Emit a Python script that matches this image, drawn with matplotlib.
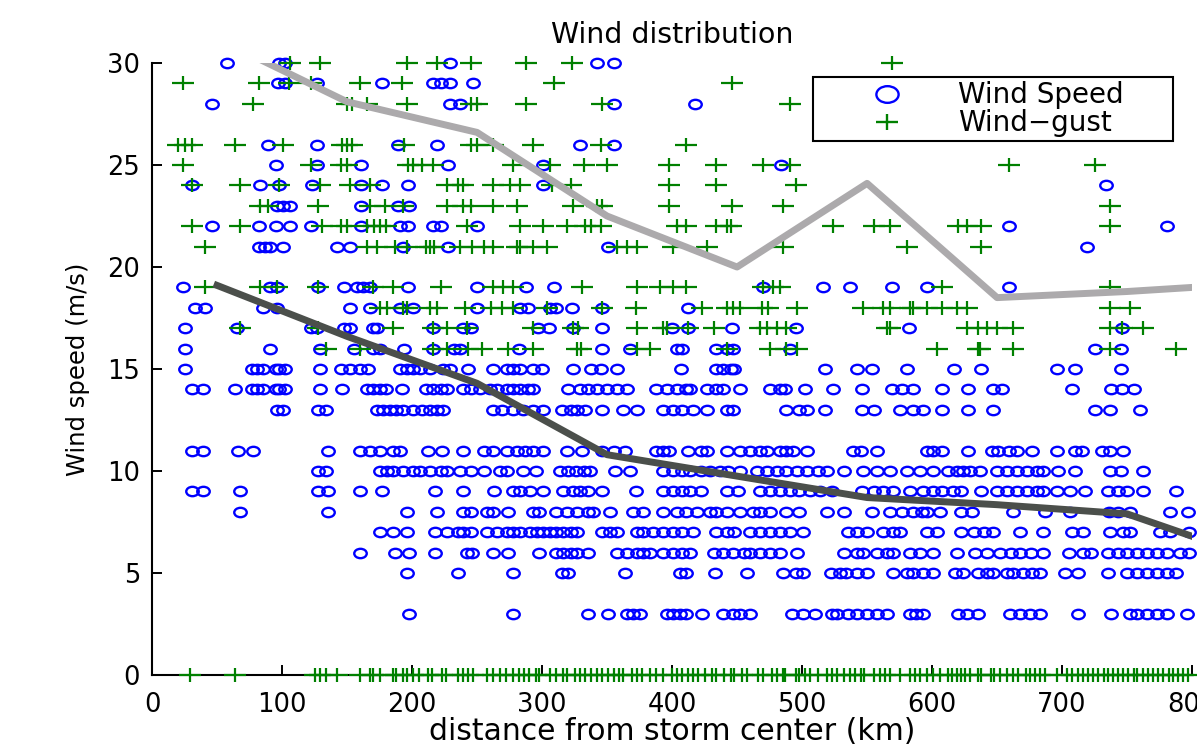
import matplotlib.pyplot as plt
import numpy as np
from matplotlib.path import Path
from matplotlib.transforms import Affine2D
from matplotlib.lines import Line2D

# distance (km) of each Wind Speed observation, one list per speed level (m/s)
ws_30 = [58, 98, 102, 229, 342, 355]
ws_29 = [97, 102, 127, 177, 216, 222, 229, 247]
ws_28 = [46, 229, 237, 355, 418]
ws_26 = [89, 127, 189, 219, 329, 355]
ws_25 = [95, 127, 161, 228, 301, 484]
ws_24 = [31, 83, 98, 123, 161, 177, 197, 301, 734]
ws_23 = [96, 101, 106, 161, 189, 198]
ws_22 = [46, 82, 95, 106, 122, 161, 191, 197, 216, 222, 250, 659, 781]
ws_21 = [82, 87, 91, 101, 142, 152, 193, 228, 351, 719]
ws_19 = [24, 91, 96, 128, 148, 158, 162, 168, 197, 250, 288, 309, 470, 516,
         537, 569, 596, 659]
ws_18 = [33, 41, 85, 96, 152, 168, 191, 201, 250, 283, 289, 306, 311, 323,
         346, 412]
ws_17 = [25, 65, 122, 127, 148, 152, 170, 173, 216, 239, 245, 297, 305, 324,
         346, 400, 412, 446, 495, 582, 746]
ws_16 = [25, 91, 129, 155, 170, 175, 194, 216, 232, 237, 282, 346, 368, 404,
         408, 434, 442, 447, 491, 725, 745]
ws_15 = [25, 77, 81, 85, 95, 98, 102, 129, 145, 152, 160, 166, 191, 196, 201,
         206, 214, 224, 229, 243, 262, 273, 278, 283, 293, 300, 324, 338, 345,
         358, 407, 434, 439, 445, 448, 518, 542, 554, 581, 617, 638, 696, 710,
         745]
ws_14 = [31, 39, 64, 77, 81, 85, 95, 98, 102, 129, 146, 165, 170, 175, 180,
         192, 211, 216, 222, 227, 239, 245, 252, 260, 265, 273, 278, 283, 289,
         293, 320, 329, 335, 342, 350, 358, 365, 388, 396, 404, 411, 414, 427,
         434, 439, 452, 475, 483, 487, 502, 524, 546, 569, 577, 585, 608, 628,
         647, 654, 708, 738, 746, 755]
ws_13 = [96, 101, 128, 134, 173, 178, 183, 188, 193, 201, 208, 214, 219, 224,
         262, 269, 278, 285, 293, 301, 315, 322, 327, 333, 346, 362, 373, 393,
         401, 408, 416, 427, 442, 447, 488, 498, 504, 518, 546, 555, 575, 585,
         593, 608, 628, 647, 725, 737, 760]
ws_11 = [31, 39, 66, 78, 135, 160, 168, 175, 185, 191, 212, 223, 239, 255,
         262, 273, 281, 287, 293, 301, 319, 331, 346, 355, 364, 388, 393, 398,
         412, 422, 427, 442, 452, 460, 468, 473, 483, 488, 493, 504, 539, 545,
         558, 596, 601, 608, 628, 646, 651, 659, 665, 677, 696, 710, 715, 731,
         737, 747]
ws_10 = [128, 134, 175, 181, 185, 193, 201, 206, 214, 222, 227, 237, 245, 255,
         268, 273, 285, 295, 314, 320, 326, 332, 337, 356, 368, 393, 401, 408,
         414, 422, 429, 437, 443, 452, 465, 473, 481, 488, 496, 504, 512, 519,
         532, 547, 558, 568, 581, 591, 601, 612, 619, 624, 629, 637, 650, 658,
         665, 673, 681, 685, 697, 710, 737, 745, 762]
ws_9 = [31, 39, 68, 128, 135, 160, 177, 218, 239, 263, 278, 283, 291, 301,
        316, 324, 329, 335, 346, 372, 393, 401, 408, 414, 422, 442, 451, 468,
        475, 483, 491, 498, 506, 514, 523, 546, 555, 562, 570, 583, 593, 601,
        608, 616, 622, 638, 650, 658, 665, 673, 681, 685, 696, 706, 718, 735,
        743, 750, 762, 788]
ws_8 = [68, 135, 196, 219, 239, 245, 258, 262, 274, 293, 298, 311, 319, 327,
        335, 339, 352, 370, 378, 393, 404, 411, 419, 429, 434, 442, 452, 462,
        468, 475, 488, 498, 519, 532, 554, 568, 577, 585, 592, 596, 606, 622,
        631, 662, 687, 706, 736, 743, 752, 783, 797]
ws_7 = [175, 185, 196, 218, 227, 235, 239, 245, 258, 265, 273, 278, 283, 291,
        296, 301, 306, 311, 316, 322, 327, 346, 352, 358, 373, 378, 385, 393,
        401, 408, 416, 434, 442, 448, 460, 468, 475, 483, 491, 501, 535, 542,
        550, 562, 570, 575, 596, 604, 622, 632, 640, 647, 668, 685, 708, 716,
        737, 747, 752, 775, 783, 798]
ws_6 = [160, 187, 198, 218, 242, 246, 262, 274, 298, 311, 316, 322, 327, 335,
        358, 365, 373, 378, 383, 393, 401, 408, 414, 432, 439, 447, 455, 460,
        468, 475, 483, 496, 532, 542, 547, 558, 565, 570, 583, 591, 601, 619,
        633, 642, 652, 661, 668, 676, 685, 705, 716, 722, 735, 743, 750, 758,
        765, 773, 781, 791, 798]
ws_5 = [196, 235, 278, 315, 320, 364, 406, 411, 433, 458, 485, 495, 501, 522,
        529, 534, 542, 550, 570, 581, 585, 593, 601, 618, 624, 635, 642, 647,
        658, 662, 670, 677, 683, 702, 712, 735, 750, 758, 765, 773, 781, 788]
ws_3 = [198, 278, 335, 351, 365, 370, 375, 396, 401, 406, 411, 423, 439, 447,
        452, 460, 492, 501, 510, 523, 527, 535, 542, 550, 558, 565, 583, 588,
        593, 620, 627, 635, 660, 668, 675, 683, 712, 738, 752, 758, 765, 773,
        781, 796]

# distance (km) of each Wind-gust observation, one list per gust level (m/s)
wg_30 = [106, 129, 196, 219, 245, 288, 323, 569]
wg_29 = [24, 82, 105, 122, 160, 192, 309, 446]
wg_28 = [78, 150, 154, 165, 196, 245, 250, 288, 346, 491]
wg_26 = [20, 25, 31, 64, 101, 146, 150, 154, 194, 245, 250, 262, 293, 345, 411]
wg_25 = [24, 122, 145, 150, 197, 201, 208, 216, 278, 306, 332, 350, 398, 434,
         470, 491, 659, 725]
wg_24 = [31, 68, 98, 129, 152, 168, 227, 235, 239, 262, 275, 283, 308, 322,
         398, 434, 495]
wg_23 = [83, 89, 128, 168, 179, 193, 227, 239, 245, 262, 281, 324, 342, 346,
         398, 446, 485, 737]
wg_22 = [31, 68, 131, 145, 150, 165, 171, 175, 180, 242, 283, 301, 319, 333,
         338, 345, 404, 411, 434, 442, 445, 524, 555, 568, 620, 627, 638, 737]
wg_21 = [41, 165, 173, 187, 196, 211, 214, 217, 237, 246, 255, 262, 281, 283,
         293, 304, 358, 365, 373, 401, 427, 485, 581, 638]
wg_19 = [41, 83, 96, 128, 170, 185, 222, 262, 270, 278, 331, 373, 391, 401,
         411, 470, 478, 483, 608, 737]
wg_18 = [175, 181, 193, 196, 214, 219, 241, 261, 269, 278, 304, 346, 372, 423,
         442, 447, 452, 469, 474, 496, 547, 562, 568, 583, 585, 596, 608, 619,
         627, 737, 752]
wg_17 = [68, 128, 185, 216, 227, 242, 293, 324, 328, 373, 393, 396, 412, 432,
         468, 473, 481, 488, 565, 568, 627, 635, 642, 650, 662, 737, 746, 762]
wg_16 = [134, 160, 216, 227, 243, 254, 274, 293, 327, 330, 373, 383, 442, 475,
         488, 496, 604, 635, 637, 662, 737, 788]
wg_0 = [29, 64, 125, 129, 134, 142, 160, 168, 170, 175, 185, 188, 193, 196,
        201, 205, 212, 215, 223, 226, 235, 239, 243, 247, 258, 262, 268, 272,
        278, 282, 286, 290, 295, 298, 306, 311, 316, 319, 325, 329, 333, 338,
        342, 346, 351, 355, 359, 362, 369, 373, 377, 383, 388, 393, 400, 404,
        408, 412, 416, 420, 425, 431, 434, 440, 445, 448, 454, 458, 466, 470,
        477, 481, 485, 487, 495, 498, 502, 506, 512, 519, 523, 527, 532, 537,
        541, 545, 548, 555, 560, 564, 568, 575, 583, 587, 591, 596, 601, 606,
        612, 615, 619, 622, 625, 629, 635, 638, 645, 648, 652, 658, 662, 666,
        672, 675, 679, 683, 687, 696, 704, 708, 712, 716, 720, 724, 728, 732,
        735, 739, 743, 747, 751, 755, 758, 762, 766, 770, 774, 778, 782, 785,
        789, 793, 797]

# binned means
bin_x = [50, 150, 250, 350, 450, 550, 650, 750, 800]
ws_mean = [19.1, 16.6, 14.3, 10.8, 9.75, 8.7, 8.35, 7.9, 6.8]
gust_mean = [31.2, 28.1, 26.6, 22.5, 20.0, 24.1, 18.5, 18.8, 19.0]

speed_rows = {30: ws_30, 29: ws_29, 28: ws_28, 26: ws_26, 25: ws_25,
              24: ws_24, 23: ws_23, 22: ws_22, 21: ws_21, 19: ws_19,
              18: ws_18, 17: ws_17, 16: ws_16, 15: ws_15, 14: ws_14,
              13: ws_13, 11: ws_11, 10: ws_10, 9: ws_9, 8: ws_8, 7: ws_7,
              6: ws_6, 5: ws_5, 3: ws_3}
gust_rows = {30: wg_30, 29: wg_29, 28: wg_28, 26: wg_26, 25: wg_25,
             24: wg_24, 23: wg_23, 22: wg_22, 21: wg_21, 19: wg_19,
             18: wg_18, 17: wg_17, 16: wg_16, 0: wg_0}

sx = np.concatenate([v for v in speed_rows.values()])
sy = np.concatenate([[k] * len(v) for k, v in speed_rows.items()])
gx = np.concatenate([v for v in gust_rows.values()])
gy = np.concatenate([[k] * len(v) for k, v in gust_rows.items()])

# the original picture is stretched sideways, so the markers are too
circ = Path.unit_circle().transformed(Affine2D().scale(1.0, 0.75))
plus = Path([(-1, 0), (1, 0), (0, -0.68), (0, 0.68)],
            [Path.MOVETO, Path.LINETO, Path.MOVETO, Path.LINETO])

fig = plt.figure(figsize=(11.97, 7.44), dpi=100)
ax = fig.add_axes([0.127, 0.0927, 0.8689, 0.8226])

ax.plot(sx, sy, ls='none', marker=circ, ms=9, mfc='none', mec='#0000ff',
        mew=1.7, clip_on=False, zorder=2)
ax.plot(gx, gy, ls='none', marker=plus, ms=15.5, mfc='none', mec='#008000',
        mew=1.6, clip_on=False, zorder=3)
ax.plot(bin_x, ws_mean, color='#4b4f4b', lw=5, zorder=4)
ax.plot(bin_x, gust_mean, color='#acaaac', lw=5, zorder=4)

ax.set_xlim(0, 800)
ax.set_ylim(0, 30)
ax.set_xticks(np.arange(0, 801, 100))
ax.set_yticks(np.arange(0, 31, 5))
for s in ['top', 'right']:
    ax.spines[s].set_visible(False)
for s in ['left', 'bottom']:
    ax.spines[s].set_linewidth(1.5)
ax.tick_params(direction='in', length=7, width=1.4, labelsize=18.5,
               top=False, right=False)
ax.tick_params(axis='y', pad=8.5)
ax.tick_params(axis='x', pad=12)

ax.set_title('Wind distribution', fontsize=20.5, pad=14.5)
ax.set_xlabel('distance from storm center (km)', fontsize=21.5)
ax.xaxis.set_label_coords(0.5, -0.069)
ax.set_ylabel('Wind speed (m/s)', fontsize=17.5)
ax.yaxis.set_label_coords(-0.06, 0.5)

h1 = Line2D([], [], ls='none', marker=circ, ms=16, mfc='none', mec='#0000ff',
            mew=1.7)
h2 = Line2D([], [], ls='none', marker=plus, ms=16, mfc='none', mec='#008000',
            mew=1.7)
leg = ax.legend([h1, h2], ['Wind Speed', 'Wind\u2212gust'], loc='upper left',
                bbox_to_anchor=(0.6356, 0.8595, 0.346, 0.1175), mode='expand',
                borderaxespad=0, fontsize=20, handlelength=5.0,
                handletextpad=0.07, borderpad=0.15, labelspacing=0.0,
                fancybox=False, edgecolor='black', framealpha=1)
leg.get_frame().set_linewidth(1.5)
leg.set_zorder(10)

plt.savefig('out.png', dpi=100)
